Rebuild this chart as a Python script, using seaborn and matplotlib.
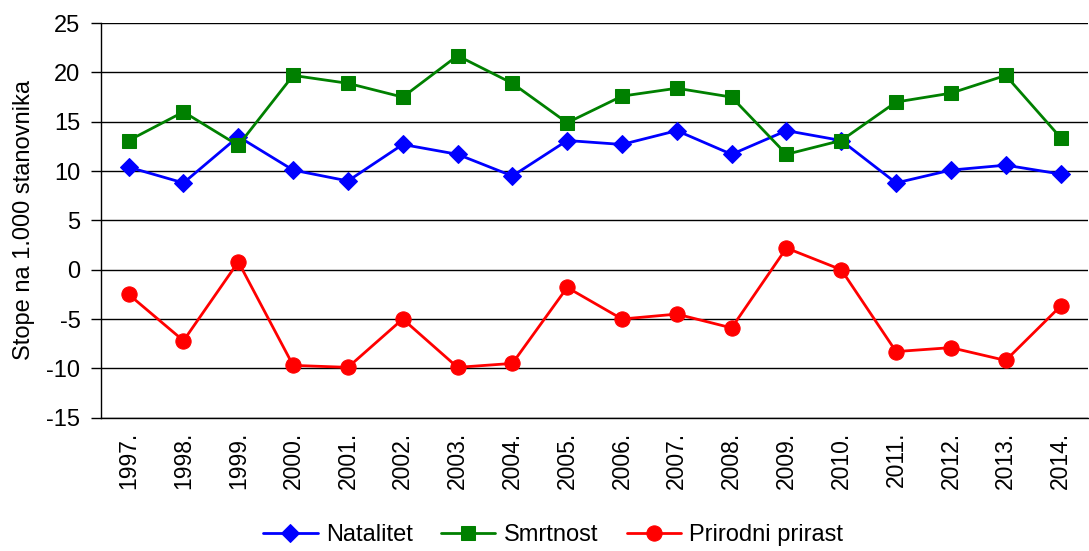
import numpy as np
import pandas as pd
import matplotlib
matplotlib.use("Agg")
import matplotlib.pyplot as plt
import seaborn as sns

# ── Data ───────────────────────────────────────────────────────────────────────

years = ["1997.", "1998.", "1999.", "2000.", "2001.", "2002.", "2003.", "2004.", "2005.",
         "2006.", "2007.", "2008.", "2009.", "2010.", "2011.", "2012.", "2013.", "2014."]
natalitet = [10.4, 8.8, 13.5, 10.1, 9.0, 12.7, 11.7, 9.5, 13.1,
             12.7, 14.1, 11.7, 14.1, 13.1, 8.8, 10.1, 10.6, 9.7]
smrtnost = [13.1, 16.0, 12.6, 19.7, 18.9, 17.5, 21.7, 18.9, 14.9,
            17.6, 18.4, 17.5, 11.7, 13.1, 17.0, 17.9, 19.7, 13.4]
prirast = [-2.5, -7.2, 0.8, -9.7, -9.9, -5.0, -9.9, -9.5, -1.8,
           -5.0, -4.5, -5.9, 2.2, 0.0, -8.3, -7.9, -9.2, -3.7]

series_names = ["Natalitet", "Smrtnost", "Prirodni prirast"]
series_colors = ["#0000ff", "#008000", "#ff0000"]
series_markers = ["D", "s", "o"]
series_sizes = [9.5, 10.5, 11]

df = pd.DataFrame({
    "pos": list(range(len(years))) * 3,
    "value": natalitet + smrtnost + prirast,
    "series": [n for n in series_names for _ in years],
})

# ── Plot ───────────────────────────────────────────────────────────────────────

sns.set_style("white")
plt.rcParams["font.family"] = ["Liberation Sans", "DejaVu Sans"]
plt.rcParams["axes.unicode_minus"] = False
plt.rcParams["text.color"] = "black"
plt.rcParams["xtick.color"] = "black"
plt.rcParams["ytick.color"] = "black"
plt.rcParams["axes.labelcolor"] = "black"

FS = 17

fig = plt.figure(figsize=(10.89, 5.51), dpi=100)
ax = fig.add_axes([0.093, 0.242, 0.906, 0.716])

for name, color, marker, ms in zip(series_names, series_colors, series_markers, series_sizes):
    sns.lineplot(
        data=df[df["series"] == name], x="pos", y="value",
        color=color, marker=marker, markersize=ms, linewidth=2.0,
        markeredgecolor=color, ax=ax, label=name, legend=False,
    )

ax.set_xlim(-0.5, len(years) - 0.5)
ax.set_ylim(-15, 25)
ax.set_yticks(np.arange(-15, 26, 5))
ax.yaxis.grid(True, color="black", linewidth=1)
ax.set_axisbelow(True)

ax.set_xticks(range(len(years)))
ax.set_xticklabels(years, rotation=90, fontsize=16.5)
ax.set_xticks(np.arange(-0.5, len(years), 1), minor=True)
ax.tick_params(axis="x", which="major", length=0, pad=10)
ax.tick_params(axis="x", which="minor", length=6, width=1, color="black", direction="out")
ax.tick_params(axis="y", labelsize=FS, length=7, width=1, color="black", left=True,
               direction="out", pad=8)

ax.set_xlabel("")
ax.set_ylabel("Stope na 1.000 stanovnika", fontsize=FS, labelpad=8)

for side in ["top", "right"]:
    ax.spines[side].set_visible(False)
for side in ["left", "bottom"]:
    ax.spines[side].set_color("black")
    ax.spines[side].set_linewidth(1)

handles, labels = ax.get_legend_handles_labels()
fig.legend(handles, labels, loc="lower center", bbox_to_anchor=(0.508, -0.03), ncol=3,
           frameon=False, fontsize=FS, handlelength=2.3, columnspacing=1.2, handletextpad=0.35)

plt.savefig("out.png", dpi=100)
plt.close()
